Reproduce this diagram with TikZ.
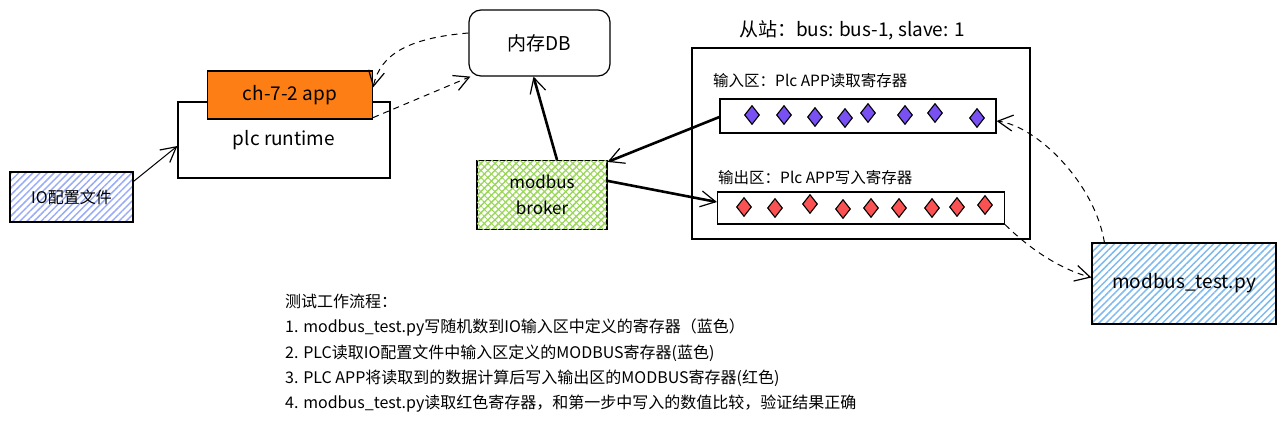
\documentclass[tikz,border=0pt]{standalone}
\usepackage{fontspec}
\setmainfont{Noto Sans CJK SC}
\usetikzlibrary{arrows.meta}
\usetikzlibrary{shapes.geometric}
\usetikzlibrary{patterns.meta}

\definecolor{appOrange}{HTML}{FD7E14}
\definecolor{ioBlue}{HTML}{9AACF8}
\definecolor{brokerGreen}{HTML}{9BD65A}
\definecolor{pyBlue}{HTML}{7FB9EE}
\definecolor{regPurple}{HTML}{7950F2}
\definecolor{regRed}{HTML}{FA5252}

\begin{document}
\begin{tikzpicture}[x=1pt,y=-1pt]
            \tikzset{every node/.style={font=\fontsize{19}{23}\selectfont},
                    >={Straight Barb[length=15pt,width=16pt,line width=1.2pt]},
                    every edge/.style={draw=black,line width=1pt},
                    box/.style={draw,line width=1.2pt,inner sep=0pt},
                    hatch/.style={pattern={Lines[angle=45,distance=5pt,line width=1.5pt]},pattern color=#1},
                    gem/.style={diamond,draw,line width=1.1pt,minimum width=15pt,minimum height=19pt,inner sep=0pt},
                    heavy/.style={line width=2.6pt},
                    link/.style={dash pattern=on 6pt off 5pt}}
            \useasboundingbox (0,0) rectangle (1285,425);
            \node[box, hatch=ioBlue, minimum width=123pt, minimum height=50pt, font=\fontsize{16}{19}\selectfont] (1) at (71.5,197) {IO配置文件};
            \node[box, fill=white, minimum width=212pt, minimum height=76pt] (2) at (284,140) {plc runtime};
            \node[box, fill=appOrange, minimum width=165pt, minimum height=48pt] (3) at (290,95) {ch-7-2 app};
            \node[box, rounded corners=12pt, minimum width=141pt, minimum height=66pt] (4) at (539.5,43) {内存DB};
            \node[box, hatch=brokerGreen, postaction={pattern={Lines[angle=-45,distance=5pt,line width=1pt]},pattern color=brokerGreen},
                  minimum width=130pt, minimum height=69pt, align=center, font=\fontsize{17}{26}\selectfont] (5) at (542,195) {modbus\\broker};
            \node[box, minimum width=338pt, minimum height=191pt] (6) at (861,143.5) {};
            \node[font=\fontsize{19}{22}\selectfont] (t) at (852,30) {从站：bus: bus-1, slave: 1};
            \node[box, minimum width=276pt, minimum height=34pt] (7) at (858,116) {};
            \node[box, minimum width=287pt, minimum height=32pt] (8) at (861,208) {};
            \node[anchor=west, inner sep=0pt, font=\fontsize{15.5}{18}\selectfont] (l1) at (713,81) {输入区：Plc APP读取寄存器};
            \node[anchor=west, inner sep=0pt, font=\fontsize{15.5}{18}\selectfont] (l2) at (718,178) {输出区：Plc APP写入寄存器};
            \foreach \x/\y [count=\i] in {752/115, 784/115, 815/117, 845/118, 868/113, 905/115, 935/113, 977/118}
                \node[gem, fill=regPurple] (in\i) at (\x,\y) {};
            \foreach \x/\y [count=\i] in {744/207, 775/208, 810/204, 843/209, 871/208, 899/208, 932/208, 957/207, 985/205}
                \node[gem, fill=regRed] (out\i) at (\x,\y) {};
            \node[box, hatch=pyBlue, minimum width=184pt, minimum height=81pt] (9) at (1184,283.5) {modbus\_test.py};
            \node[anchor=north west, align=left, inner sep=0pt, font=\fontsize{16}{25.3}\selectfont] (s) at (285,294) {测试工作流程：\\
                1. modbus\_test.py写随机数到IO输入区中定义的寄存器（蓝色）\\
                2. PLC读取IO配置文件中输入区定义的MODBUS寄存器(蓝色)\\
                3. PLC APP将读取到的数据计算后写入输出区的MODBUS寄存器(红色)\\
                4. modbus\_test.py读取红色寄存器，和第一步中写入的数值比较，验证结果正确};
            \path [->] ([yshift=-10pt]1.north east) edge ([yshift=-6pt]2.west);
            \draw [->, link, line width=1pt] ([yshift=10pt]4.west) .. controls +(-60,5) and +(7,-33) .. ([yshift=-17pt]3.north east);
            \path [->, link] ([yshift=2pt]3.south east) edge ([xshift=2pt]4.south west);
            \path [->] ([xshift=15pt]5.north) edge[heavy] ([xshift=-6pt]4.south);
            \path [->] ([yshift=-1pt]7.west) edge[heavy] ([yshift=-2pt]5.north east);
            \path [->] ([yshift=-21pt]5.north east) edge[heavy] ([yshift=6pt]8.west);
            \draw [->, link, line width=1pt] (8.south east) .. controls +(25,25) and +(-30,-8) .. ([yshift=6pt]9.west);
            \draw [->, link, line width=1pt] ([xshift=13pt]9.north west) .. controls +(-10,-60) and +(40,5) .. ([yshift=-5pt]7.east);
        \end{tikzpicture}
\end{document}
